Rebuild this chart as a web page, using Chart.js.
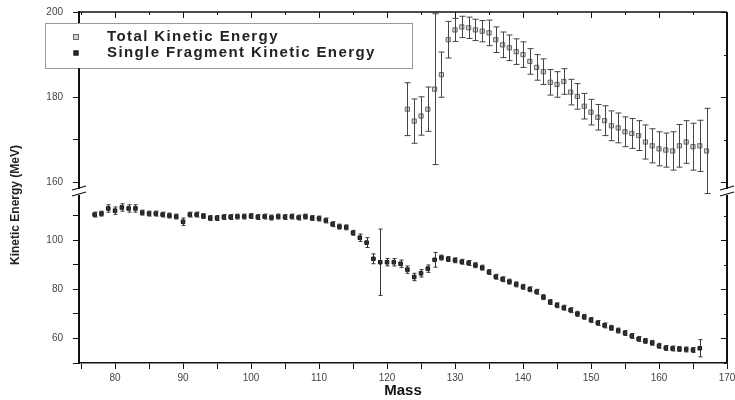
<!DOCTYPE html>
<html>
<head>
<meta charset="utf-8">
<script src="https://cdn.jsdelivr.net/npm/chart.js@4"></script>
<style>
html,body{margin:0;padding:0;background:#fff}
#wrap{width:735px;height:400px}
</style>
</head>
<body>
<div id="wrap"><canvas id="c" width="735" height="400"></canvas></div>
<script>
// DATA

const massSingle=[77,78,79,80,81,82,83,84,85,86,87,88,89,90,91,92,93,94,95,96,97,98,99,100,101,102,103,104,105,106,107,108,109,110,111,112,113,114,115,116,117,118,119,120,121,122,123,124,125,126,127,128,129,130,131,132,133,134,135,136,137,138,139,140,141,142,143,144,145,146,147,148,149,150,151,152,153,154,155,156,157,158,159,160,161,162,163,164,165,166]

const singleKE=[110.4,110.8,112.9,112.0,113.3,112.9,112.9,111.2,110.8,110.8,110.4,110.0,109.6,107.5,110.4,110.4,109.8,109.0,109.0,109.4,109.4,109.6,109.6,109.8,109.4,109.6,109.2,109.6,109.4,109.6,109.2,109.6,109.0,108.8,108.0,106.5,105.5,105.2,103.0,101.0,99.0,92.4,91.0,91.0,91.0,90.4,88.0,85.0,86.5,88.4,92.0,92.9,92.3,91.8,91.2,90.7,89.8,88.8,87.0,85.1,84.1,83.1,82.0,81.0,80.0,79.0,76.8,74.8,73.5,72.5,71.5,70.0,68.8,67.5,66.3,65.3,64.3,63.2,62.2,61.0,59.8,59.0,58.2,57.0,56.1,55.9,55.7,55.5,55.3,56.0]

const singleErr=[1,1,1.5,1.5,1.5,1.5,1.5,1,1,1,1,1,1,1.5,1,1,1,1,1,1,1,1,1,1,1,1,1,1,1,1,1,1,1,1,1,1,1,1,1,1.5,2,2,13.5,1.5,1.5,1.5,1.5,1.5,1.5,1.5,3,1,1,1,1,1,1,1,1,1,1,1,1,1,1,1,1,1,1,1,1,1,1,1,1,1,1,1,1,1,1,1,1,1,1,1,1,1,1,3.5]

const massTotal=[123,124,125,126,127,128,129,130,131,132,133,134,135,136,137,138,139,140,141,142,143,144,145,146,147,148,149,150,151,152,153,154,155,156,157,158,159,160,161,162,163,164,165,166,167]

const totalKE=[177.2,174.4,175.6,177.2,181.9,185.3,193.5,195.8,196.5,196.3,195.8,195.5,195.1,193.5,192.3,191.6,190.7,190.0,188.4,187.0,186.0,183.5,183.0,183.7,181.2,180.2,177.9,176.5,175.3,174.5,173.3,172.8,171.9,171.5,171.0,169.5,168.6,167.9,167.6,167.4,168.6,169.5,168.4,168.6,167.4]

const totalErr=[6.2,5.2,4.5,5.2,17.7,5.3,4.3,2.7,2.5,2.5,2.5,2.5,3,3,3,3,3,3,3,3,3,3,3,3,3,3,3,3,3,3.5,3.5,3.5,3.5,3.5,3.5,4,4,4,4,4.5,5,5,5.5,6,10]

const massTicks=[75,80,85,90,95,100,105,110,115,120,125,130,135,140,145,150,155,160,165,170]
const lowTicks=[50,60,70,80,90,100,110]
const highTicks=[160,170,180,190,200]
const labelledLow=[60,80,100]
const labelledHigh=[160,180,200]

const seriesNames=["Total Kinetic Energy","Single Fragment Kinetic Energy"]


// HELPERS

const pts=(xs,ys,es)=>xs.map((x,k)=>({x:x,y:ys[k],e:es[k]}))

const tickFont={family:"Liberation Sans",size:10}

// fixed axis sizes, no extra label padding
const fitX=s=>{s.height=37;s.paddingLeft=0;s.paddingRight=0}
const fitY=s=>{s.width=79;s.paddingTop=0;s.paddingBottom=0}


// ERROR BARS + FRAME + LEGEND

const extras={

id:"extras",

afterDatasetsDraw(chart){

const ctx=chart.ctx
const xs=chart.scales.x

chart.data.datasets.forEach(ds=>{

const ys=chart.scales[ds.yAxisID]
ctx.save()
ctx.strokeStyle=ds.errColor
ctx.lineWidth=1

ds.data.forEach(p=>{

const px=Math.round(xs.getPixelForValue(p.x))+0.5
const top=ys.getPixelForValue(p.y+p.e)
const bot=ys.getPixelForValue(p.y-p.e)
const cap=ds.capWidth

ctx.beginPath()
ctx.moveTo(px,top)
ctx.lineTo(px,bot)
ctx.moveTo(px-cap,top)
ctx.lineTo(px+cap,top)
ctx.moveTo(px-cap,bot)
ctx.lineTo(px+cap,bot)
ctx.stroke()

})

ctx.restore()

})

},

afterDraw(chart){

const ctx=chart.ctx
const a=chart.chartArea
const xs=chart.scales.x
const yl=chart.scales.yLow
const yh=chart.scales.yHigh

ctx.save()
ctx.strokeStyle="#111"

// top and right border
ctx.lineWidth=1.5
ctx.beginPath()
ctx.moveTo(a.left,a.top)
ctx.lineTo(a.right,a.top)
ctx.stroke()
ctx.lineWidth=2
ctx.beginPath()
ctx.moveTo(a.right,a.top)
ctx.lineTo(a.right,a.bottom)
ctx.stroke()

// inner ticks top
ctx.lineWidth=1
massTicks.forEach(v=>{
const px=Math.round(xs.getPixelForValue(v))+0.5
const len=v%10===0?6:3
ctx.beginPath()
ctx.moveTo(px,a.top)
ctx.lineTo(px,a.top+len)
ctx.stroke()
})

// inner ticks right
const rt=(scale,list,labelled)=>list.forEach(v=>{
const py=Math.round(scale.getPixelForValue(v))+0.5
const len=labelled.includes(v)?6:3
ctx.beginPath()
ctx.moveTo(a.right,py)
ctx.lineTo(a.right-len,py)
ctx.stroke()
})
rt(yl,lowTicks,labelledLow)
rt(yh,highTicks,labelledHigh)

// axis breaks
const brk=yh.bottom
;[a.left,a.right].forEach(x=>{
ctx.fillStyle="#fff"
ctx.fillRect(x-3,brk-2,6,6)
ctx.lineWidth=1.2
ctx.beginPath()
ctx.moveTo(x-7,brk-1)
ctx.lineTo(x+7,brk-5)
ctx.moveTo(x-7,brk+5)
ctx.lineTo(x+7,brk+1)
ctx.stroke()
})

// legend
const lx=45,ly=23,lw=367,lh=45
ctx.fillStyle="#fff"
ctx.fillRect(lx,ly,lw,lh)
ctx.setLineDash([1,1])
ctx.lineWidth=1
ctx.strokeStyle="#333"
ctx.strokeRect(lx+0.5,ly+0.5,lw,lh)
ctx.setLineDash([])

const ds=chart.data.datasets
ctx.font="bold 15px 'Liberation Sans'"
ctx.letterSpacing="1.4px"
ctx.textBaseline="middle"
ctx.textAlign="left"
;[37,53].forEach((yy,k)=>{
const d=ds[k]
const s=d.pointRadius
ctx.fillStyle=d.backgroundColor
ctx.strokeStyle=d.borderColor
ctx.lineWidth=1
ctx.fillRect(76-s,yy-s,2*s,2*s)
ctx.strokeRect(76-s+0.5,yy-s+0.5,2*s-1,2*s-1)
ctx.fillStyle="#222"
ctx.fillText(d.label,107,yy)
})
ctx.letterSpacing="0px"

// y title
ctx.translate(16,205)
ctx.rotate(-Math.PI/2)
ctx.textAlign="center"
ctx.font="bold 12px 'Liberation Sans'"
ctx.fillStyle="#222"
ctx.fillText("Kinetic Energy (MeV)",0,0)

ctx.restore()

}

}


// CHART

new Chart(document.getElementById("c"),{

type:"scatter",

data:{
datasets:[
{
label:seriesNames[0],
data:pts(massTotal,totalKE,totalErr),
yAxisID:"yHigh",
pointStyle:"rect",
pointRadius:3,
backgroundColor:"#d4d4d4",
borderColor:"#666",
borderWidth:1,
errColor:"#444",
capWidth:3
},
{
label:seriesNames[1],
data:pts(massSingle,singleKE,singleErr),
yAxisID:"yLow",
pointStyle:"rect",
pointRadius:2.5,
backgroundColor:"#333",
borderColor:"#111",
borderWidth:1,
errColor:"#333",
capWidth:2
}
]
},

options:{
responsive:false,
animation:false,
events:[],
layout:{padding:{top:12,right:8,left:0,bottom:0}},
plugins:{legend:{display:false},tooltip:{enabled:false}},
scales:{

x:{
type:"linear",
min:74.7,
max:170,
afterBuildTicks:s=>{s.ticks=massTicks.map(v=>({value:v}))},
afterFit:fitX,
ticks:{
font:tickFont,
color:"#444",
padding:3,
autoSkip:false,
maxRotation:0,
callback:v=>v%10===0?String(v):""
},
grid:{drawOnChartArea:false,tickLength:6,tickColor:"#111"},
border:{color:"#111",width:1.5},
title:{display:true,text:"Mass",font:{family:"Liberation Sans",size:15,weight:"bold"},color:"#111",padding:{top:0,bottom:0}}
},

yLow:{
type:"linear",
position:"left",
stack:"y",
stackWeight:172,
min:50,
max:120,
afterBuildTicks:s=>{s.ticks=lowTicks.map(v=>({value:v}))},
afterFit:fitY,
ticks:{font:tickFont,color:"#444",padding:10,callback:v=>labelledLow.includes(v)?String(v):""},
grid:{drawOnChartArea:false,tickLength:6,tickColor:"#111"},
border:{color:"#111",width:2}
},

yHigh:{
type:"linear",
position:"left",
stack:"y",
stackWeight:179,
min:158,
max:200,
afterBuildTicks:s=>{s.ticks=highTicks.map(v=>({value:v}))},
afterFit:fitY,
ticks:{font:tickFont,color:"#444",padding:10,callback:v=>labelledHigh.includes(v)?String(v):""},
grid:{drawOnChartArea:false,tickLength:6,tickColor:"#111"},
border:{color:"#111",width:2}
}

}
},

plugins:[extras]

})
</script>
</body>
</html>
